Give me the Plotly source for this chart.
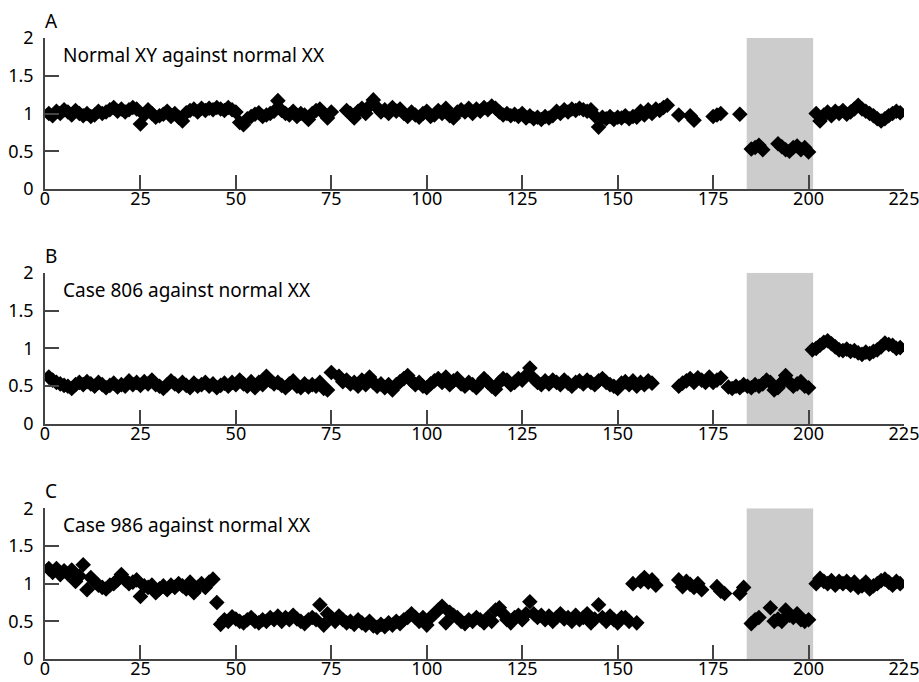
import plotly.graph_objects as go

# x positions (marker index) 1..224, None = no data
positions = list(range(1, 225))

panel_a = [
    1.00, 0.97, 1.03, 1.00, 1.05, 1.02, 0.98, 1.04, 1.00, 0.97,
    1.00, 0.96, 0.98, 1.03, 1.00, 1.02, 1.05, 1.08, 1.03, 1.06,
    1.02, 1.05, 1.08, 1.06, 0.86, 0.98, 1.05, 1.00, 0.95, 0.97,
    0.99, 1.03, 0.96, 1.00, 0.95, 0.90, 1.01, 1.04, 1.06, 1.02,
    1.07, 1.04, 1.07, 1.05, 1.08, 1.06, 1.04, 1.08, 1.05, 1.02,
    0.88, 0.85, 0.93, 0.96, 0.99, 1.01, 0.96, 0.98, 1.00, 1.03,
    1.17, 1.04, 1.00, 0.98, 1.03, 0.96, 1.00, 0.98, 0.92, 1.00,
    1.04, 1.06, 1.00, 0.94, 1.02, None, None, None, 1.04, 1.00,
    0.94, 1.03, 1.07, 1.00, 1.10, 1.18, 1.08, 1.02, 1.05, 1.00,
    1.08, 1.03, 1.06, 1.00, 0.96, 1.02, 0.98, 0.95, 1.00, 1.03,
    0.96, 0.98, 1.04, 1.00, 1.07, 0.97, 0.94, 1.02, 1.05, 1.02,
    1.07, 1.00, 1.06, 1.03, 1.08, 1.05, 1.10, 1.07, 1.02, 0.98,
    1.00, 0.97, 0.99, 0.96, 1.00, 0.94, 0.97, 0.93, 0.95, 0.92,
    0.96, 0.94, 0.97, 1.03, 1.00, 1.05, 1.02, 1.06, 1.04, 1.07,
    1.05, 1.03, 1.05, 0.97, 0.82, 0.95, 0.93, 0.96, 0.92, 0.95,
    0.94, 0.97, 0.93, 0.96, 0.95, 1.03, 0.98, 1.05, 1.00, 1.06,
    1.04, 1.08, 1.11, None, None, 0.98, None, None, 0.97, 0.91,
    None, None, None, None, 0.96, 0.98, 1.00, None, None, None,
    None, 0.99, None, None, 0.53, 0.55, 0.58, 0.52, None, None,
    None, 0.60, 0.56, 0.52, 0.50, 0.55, 0.57, 0.52, 0.55, 0.49,
    None, 1.00, 0.90, 0.98, 1.02, 0.97, 1.03, 1.00, 1.04, 0.99,
    1.02, 1.06, 1.11, 1.06, 1.03, 1.00, 0.97, 0.93, 0.90, 0.93,
    0.97, 1.00, 1.03, 1.01,
]

panel_b = [
    0.62, 0.58, 0.55, 0.53, 0.51, 0.50, 0.47, 0.52, 0.55, 0.52,
    0.56, 0.53, 0.50, 0.55, 0.52, 0.48, 0.51, 0.54, 0.49, 0.52,
    0.50, 0.57, 0.52, 0.55, 0.51, 0.56, 0.53, 0.58, 0.52, 0.50,
    0.47, 0.52, 0.57, 0.53, 0.50, 0.55, 0.51, 0.48, 0.54, 0.50,
    0.52, 0.55, 0.50, 0.53, 0.48, 0.51, 0.54, 0.50, 0.55, 0.52,
    0.58, 0.53, 0.50, 0.56, 0.48, 0.55, 0.52, 0.63, 0.57, 0.53,
    0.55, 0.51, 0.48, 0.53, 0.57, 0.50, 0.48, 0.53, 0.49, 0.52,
    0.50, 0.55, 0.47, 0.45, 0.68, None, 0.63, 0.56, 0.58, 0.53,
    0.55, 0.50, 0.58, 0.52, 0.62, 0.55, 0.50, 0.53, 0.48, 0.52,
    0.45, 0.52, 0.56, 0.60, 0.64, 0.57, 0.52, 0.55, 0.50, 0.48,
    0.53, 0.57, 0.60, 0.55, 0.62, 0.52, 0.57, 0.60, 0.53, 0.50,
    0.55, 0.52, 0.48, 0.54, 0.60, 0.55, 0.50, 0.46, 0.55, 0.60,
    0.58, 0.52, 0.55, 0.60, 0.58, 0.64, 0.74, 0.60, 0.55, 0.52,
    0.57, 0.53, 0.58, 0.55, 0.52, 0.58, 0.54, 0.50, 0.55, 0.57,
    0.53, 0.58, 0.55, 0.52, 0.57, 0.60, 0.55, 0.52, 0.50, 0.47,
    0.54, 0.56, 0.52, 0.57, 0.50, 0.55, 0.52, 0.57, 0.54, None,
    None, None, None, None, None, 0.50, 0.54, 0.57, 0.60, 0.55,
    0.61, 0.58, 0.55, 0.62, 0.55, 0.58, 0.61, None, 0.49, 0.47,
    0.50, 0.48, 0.52, 0.50, 0.48, 0.52, 0.50, 0.53, 0.58, 0.55,
    0.45, 0.48, 0.55, 0.64, 0.55, 0.50, 0.53, 0.56, 0.50, 0.48,
    0.98, 1.00, 1.04, 1.08, 1.10, 1.06, 1.02, 0.98, 0.97, 0.99,
    0.96, 0.97, 0.94, 0.92, 0.95, 0.93, 0.96, 0.98, 1.02, 1.07,
    1.05, 1.04, 1.00, 1.01,
]

panel_c = [
    1.20, 1.15, 1.20, 1.12, 1.17, 1.13, 1.18, 1.03, 1.10, 1.25,
    0.92, 1.08, 1.02, 0.98, 0.95, 0.93, 0.98, 1.00, 1.05, 1.12,
    1.05, 1.00, 1.02, 1.05, 0.83, 0.97, 0.95, 0.98, 0.88, 0.93,
    0.97, 0.92, 0.98, 0.95, 1.00, 0.97, 0.93, 1.02, 0.88, 0.95,
    1.00, 0.95, 1.02, 1.06, 0.75, 0.46, 0.52, 0.50, 0.56, 0.53,
    0.50, 0.48, 0.52, 0.55, 0.50, 0.48, 0.52, 0.50, 0.55, 0.52,
    0.57, 0.50, 0.55, 0.52, 0.58, 0.53, 0.50, 0.47, 0.52, 0.55,
    0.52, 0.72, 0.45, 0.60, 0.55, 0.50, 0.57, 0.52, 0.48, 0.50,
    0.46, 0.52, 0.48, 0.45, 0.50, 0.44, 0.42, 0.46, 0.43, 0.48,
    0.45, 0.50, 0.47, 0.52, 0.55, 0.60, 0.55, 0.50, 0.55, 0.45,
    0.55, 0.60, 0.65, 0.70, 0.48, 0.62, 0.58, 0.55, 0.50, 0.47,
    0.52, 0.50, 0.55, 0.52, 0.48, 0.55, 0.50, 0.65, 0.68, 0.60,
    0.52, 0.48, 0.55, 0.58, 0.52, 0.60, 0.76, 0.60, 0.55, 0.58,
    0.52, 0.57, 0.50, 0.55, 0.60, 0.53, 0.55, 0.50, 0.58, 0.52,
    0.55, 0.60, 0.48, 0.53, 0.72, 0.55, 0.50, 0.57, 0.52, 0.48,
    0.55, 0.55, 0.50, 1.00, 0.48, 1.03, 1.08, 1.02, 1.05, 0.98,
    None, None, None, None, None, 1.05, 0.96, 1.03, 0.99, 0.95,
    1.00, 0.92, None, None, None, 0.96, 0.90, 0.87, None, None,
    None, 0.87, 0.95, None, 0.47, 0.52, 0.55, None, None, 0.68,
    0.50, 0.53, 0.50, 0.65, 0.58, 0.55, 0.60, 0.52, 0.50, 0.52,
    None, 1.00, 1.07, 1.03, 1.00, 1.04, 0.98, 1.03, 1.00, 1.03,
    0.98, 1.02, 0.95, 0.97, 1.02, 0.93, 0.97, 1.00, 1.04, 1.06,
    1.02, 0.98, 1.03, 1.00,
]

panel_letters = ["A", "B", "C"]
panel_titles = ["Normal XY against normal XX",
                "Case 806 against normal XX",
                "Case 986 against normal XX"]
x_ticks = [0, 25, 50, 75, 100, 125, 150, 175, 200, 225]
y_ticks = [0, 0.5, 1, 1.5, 2]
y_tick_text = ["0", "0.5", "1", "1.5", "2"]
highlight = [183.8, 201.2]

FONT = "Noto Sans"
FS = 19
TFS = 18
W, H = 919, 682
ML, MR, MT, MB = 45, 15, 38, 682 - 659
plot_h = H - MT - MB
plot_w = W - ML - MR

# pixel rows of each panel (top = value 2, bottom = value 0)
panel_px = [(38, 189), (272.7, 424), (508.3, 659)]

def py(px):
    return (H - MB - px) / plot_h

def px_x(px):
    return (px - ML) / plot_w

fig = go.Figure()
series = [panel_a, panel_b, panel_c]
for i, ys in enumerate(series):
    n = i + 1
    xa = "x" if n == 1 else f"x{n}"
    ya = "y" if n == 1 else f"y{n}"
    fig.add_trace(go.Scatter(
        x=positions, y=ys, mode="markers", xaxis=xa, yaxis=ya,
        marker=dict(symbol="diamond", size=12, color="black", line=dict(width=0)),
        showlegend=False, hoverinfo="skip"))
    top, bot = panel_px[i]
    axis_common = dict(showline=True, linecolor="#444", linewidth=1.5,
                       ticks="inside", ticklen=14, tickcolor="#444", tickwidth=1.5,
                       showgrid=False, zeroline=False, automargin=False,
                       ticklabeloverflow="allow",
                       tickfont=dict(family=FONT, size=TFS, color="black"))
    fig.layout[f"xaxis{'' if n == 1 else n}"] = dict(
        domain=[0, 1], range=[0, 225], anchor=ya, tickvals=x_ticks,
        ticklabelstandoff=-7, **axis_common)
    fig.layout[f"yaxis{'' if n == 1 else n}"] = dict(
        domain=[py(bot), py(top)], range=[0, 2], anchor=xa,
        tickvals=y_ticks, ticktext=y_tick_text, ticklabelstandoff=6,
        **axis_common)
    fig.add_shape(type="rect", xref=xa, yref=ya, x0=highlight[0], x1=highlight[1],
                  y0=0, y1=2, fillcolor="#cccccc", line=dict(width=0), layer="below")
    fig.add_annotation(text=panel_letters[i], xref="paper", yref="paper",
                       x=px_x(43), y=py(top - 17), xanchor="left", yanchor="middle",
                       showarrow=False, font=dict(family=FONT, size=FS, color="black"))
    fig.add_annotation(text=panel_titles[i], xref="paper", yref="paper",
                       x=px_x(61), y=py(top + 17), xanchor="left",
                       yanchor="middle", showarrow=False,
                       font=dict(family=FONT, size=FS, color="black"))

fig.update_layout(width=W, height=H, margin=dict(l=ML, r=MR, t=MT, b=MB),
                  plot_bgcolor="white", paper_bgcolor="white")
fig.write_html("out.html", config={"displayModeBar": False},
               post_script="document.body.style.margin='0';document.body.style.overflow='hidden';")
